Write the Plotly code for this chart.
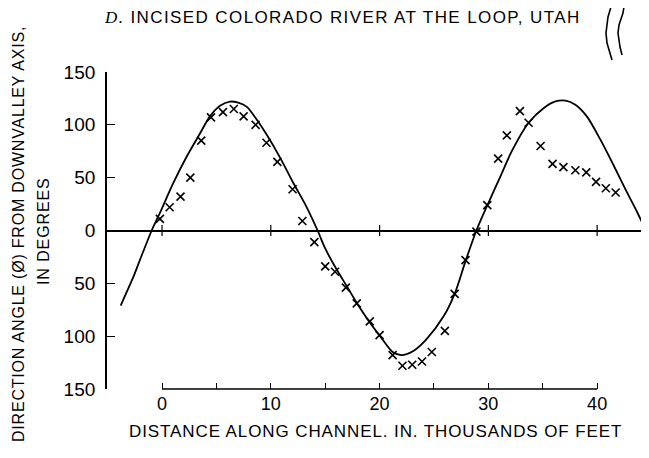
import plotly.graph_objects as go

# Theoretical (sine-generated) curve
curve_s = [-3.8, -2.6, -2.0, -0.95, -0.18, 1.04, 2.27, 3.5, 4.4, 5.33, 6.25, 7.0, 7.8, 8.7,
           9.6, 10.85, 12.07, 13.2, 14.3, 15.0, 16.0, 17.0, 18.05, 19.1, 20.05, 21.2, 22.0, 23.1,
           24.3, 25.9, 26.9, 27.9, 28.9, 30.0, 31.1, 32.2, 33.7, 35.1, 36.1, 37.1, 38.0,
           39.05, 40.3, 41.5, 42.7, 43.65, 44.3]
curve_phi = [-71, -43, -27, 0, 17, 45, 70, 92, 108, 118, 122, 121, 117, 105,
             91, 69, 45, 24, 0, -17, -36, -53, -71, -87, -100, -115, -118, -114,
             -103, -81, -60, -29, 0, 26, 51, 76, 102, 116, 122, 123, 119,
             108, 86, 62, 37, 18, 4]

# Measured direction angles (crosses)
obs_s = [-0.2, 0.7, 1.7, 2.6, 3.6, 4.5, 5.6, 6.6, 7.5, 8.6, 9.6, 10.6, 12.0, 12.9, 14.0,
         15.0, 15.9, 16.9, 17.9, 19.1, 20.0, 21.2, 22.1, 23.0, 23.9, 24.8, 26.0, 26.9,
         27.9, 28.9, 29.9, 30.9, 31.7, 32.9, 33.7, 34.8, 35.9, 36.9, 38.0, 39.0, 39.9,
         40.8, 41.7]
obs_phi = [11, 22, 32, 50, 85, 107, 112, 115, 108, 100, 83, 65, 39, 9, -11,
           -34, -39, -54, -69, -86, -99, -118, -128, -127, -124, -115, -95, -60,
           -28, -1, 24, 68, 90, 113, 102, 80, 63, 60, 57, 55, 46,
           40, 36]

x_tickvals = [0, 5, 10, 15, 20, 25, 30, 35, 40]
x_ticktext = ["0", "", "10", "", "20", "", "30", "", "40"]
zero_line_ticks = [0, 10, 20, 30, 40]
y_tickvals = [-150, -100, -50, 0, 50, 100, 150]
y_ticktext = ["150", "100", "50", "0", "50", "100", "150"]

FONT = "Liberation Sans"

fig = go.Figure()
fig.add_trace(go.Scatter(x=curve_s, y=curve_phi, mode="lines",
                         line=dict(color="black", width=1.8, shape="spline", smoothing=0.8),
                         hoverinfo="skip"))
fig.add_trace(go.Scatter(x=obs_s, y=obs_phi, mode="markers",
                         marker=dict(symbol="x-thin", size=8, color="black",
                                     line=dict(color="black", width=1.6))))
fig.add_trace(go.Scatter(x=zero_line_ticks, y=[0] * len(zero_line_ticks), mode="markers",
                         marker=dict(symbol="line-ns", size=8, color="black",
                                     line=dict(color="black", width=1.2)),
                         hoverinfo="skip"))

shapes = [
    dict(type="line", xref="x", yref="paper", x0=x_tickvals[0], x1=x_tickvals[-1],
         y0=0, y1=0, line=dict(color="black", width=1.5)),
]

# decorative wavy lines at top right (paper coords from pixel positions)
def px(xp, yp):
    return (xp - 107) / 538, (389 - yp) / 317

def path(pts):
    p = [px(*q) for q in pts]
    d = "M %f,%f" % p[0]
    for q in p[1:]:
        d += " L %f,%f" % q
    return d

shapes.append(dict(type="path", xref="paper", yref="paper",
                   path=path([(613, 0), (608, 17), (606, 33), (607, 43), (612, 60)]),
                   line=dict(color="black", width=1.6)))
shapes.append(dict(type="path", xref="paper", yref="paper",
                   path=path([(625, 0), (623, 13), (619, 25), (618, 33), (620, 47), (622, 55)]),
                   line=dict(color="black", width=1.6)))

annotations = [
    dict(text="<span style='font-family:Liberation Serif;letter-spacing:1.4px'><i>D.</i></span>"
              "<span style='letter-spacing:1.4px'> INCISED COLORADO RIVER AT THE LOOP, UTAH</span>",
         xref="paper", yref="paper", x=0.4377, y=1.1735, xanchor="center", yanchor="middle",
         showarrow=False, font=dict(family=FONT, size=17, color="black")),
    dict(text="<span style='letter-spacing:0.9px'>DISTANCE ALONG CHANNEL. IN. THOUSANDS OF FEET</span>",
         xref="paper", yref="paper", x=0.499, y=-0.1356, xanchor="center", yanchor="middle",
         showarrow=False, font=dict(family=FONT, size=17, color="black")),
    dict(text="<span style='letter-spacing:0.8px'>DIRECTION ANGLE (\u00d8) FROM DOWNVALLEY AXIS,</span>",
         xref="paper", yref="paper", x=(19 - 107) / 538, y=(389 - 234) / 317,
         xanchor="center", yanchor="middle", textangle=-90,
         showarrow=False, font=dict(family=FONT, size=16, color="black")),
    dict(text="<span style='letter-spacing:0.9px'>IN DEGREES</span>",
         xref="paper", yref="paper", x=(43 - 107) / 538, y=(389 - 231) / 317,
         xanchor="center", yanchor="middle", textangle=-90,
         showarrow=False, font=dict(family=FONT, size=16, color="black")),
]

fig.update_layout(
    width=641, height=450,
    margin=dict(l=99, r=4, t=64, b=69),
    paper_bgcolor="white", plot_bgcolor="white",
    showlegend=False,
    shapes=shapes,
    annotations=annotations,
    xaxis=dict(range=[-5.06, 44.4], tickvals=x_tickvals, ticktext=x_ticktext,
               ticks="inside", ticklen=6, tickwidth=1.2, tickcolor="black",
               showline=False, showgrid=False, zeroline=False,
               ticklabelstandoff=2,
               tickfont=dict(family=FONT, size=18, color="black")),
    yaxis=dict(range=[-150, 150], tickvals=y_tickvals, ticktext=y_ticktext,
               ticks="inside", ticklen=8, tickwidth=1.2, tickcolor="black",
               showline=True, linecolor="black", linewidth=1.8,
               showgrid=False, zeroline=True, zerolinecolor="black", zerolinewidth=1.8,
               ticklabelstandoff=6,
               tickfont=dict(family=FONT, size=19, color="black")),
)

fig.write_html("out.html")
